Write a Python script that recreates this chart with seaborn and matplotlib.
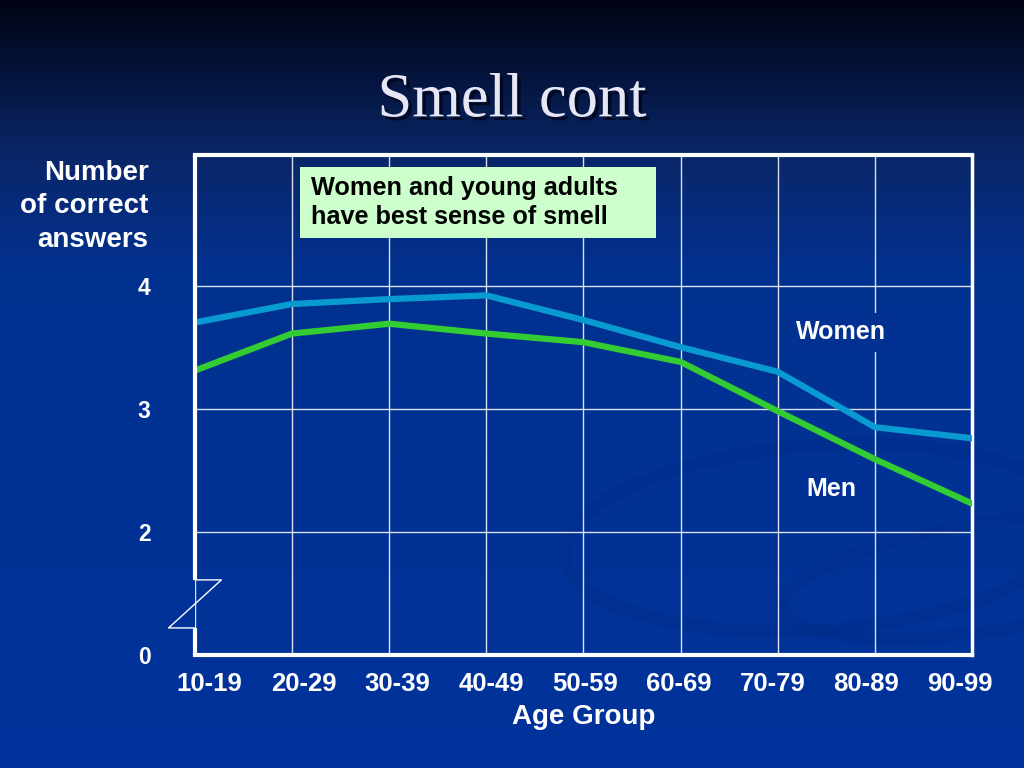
import numpy as np
import pandas as pd
import matplotlib
matplotlib.use("Agg")
import matplotlib.pyplot as plt
import matplotlib.patheffects as pe
from matplotlib.colors import LinearSegmentedColormap
from matplotlib.patches import Ellipse, Rectangle
import seaborn as sns

# data
age_groups = ["10-19", "20-29", "30-39", "40-49", "50-59", "60-69", "70-79", "80-89", "90-99"]
women = [3.70, 3.85, 3.89, 3.92, 3.72, 3.50, 3.30, 2.85, 2.76]
men = [3.31, 3.61, 3.69, 3.61, 3.54, 3.38, 2.98, 2.59, 2.23]
ytick_vals = [1, 2, 3, 4]
ytick_labels = ["0", "2", "3", "4"]

df = pd.DataFrame({
    "pos": list(range(len(age_groups))) * 2,
    "score": women + men,
    "sex": ["Women"] * len(women) + ["Men"] * len(men),
})

sns.set_style("white")
plt.rcParams["font.family"] = ["Liberation Sans", "DejaVu Sans"]

fig = plt.figure(figsize=(10.24, 7.68), dpi=100)

# slide background gradient
bg = fig.add_axes([0, 0, 1, 1], zorder=-10)
cmap = LinearSegmentedColormap.from_list(
    "slide", [(0.0, "#010413"), (0.08, "#041236"), (0.2, "#0a2668"),
              (0.35, "#02318f"), (1.0, "#00339c")])
grad = np.linspace(0, 1, 256).reshape(-1, 1)
bg.imshow(grad, aspect="auto", cmap=cmap, extent=[0, 1, 0, 1], origin="upper")
# faint swirls in the lower right
for (cx, cy, w, h, ang) in [(0.80, 0.30, 0.50, 0.24, 6), (0.97, 0.25, 0.42, 0.14, 12)]:
    bg.add_patch(Ellipse((cx, cy), w, h, angle=ang, fill=False,
                         edgecolor="#002a85", lw=9, alpha=0.35))
bg.set_xlim(0, 1)
bg.set_ylim(0, 1)
bg.axis("off")

fig.text(0.5, 0.868, "Smell cont", ha="center", va="center", fontsize=45,
         family=["Liberation Serif", "DejaVu Serif"], color="#e6e6f5",
         path_effects=[pe.withSimplePatchShadow(offset=(2.5, -2.5),
                                                shadow_rgbFace="#000820", alpha=0.9)])

ax = fig.add_axes([0.1904, 0.1471, 0.7588, 0.6511])
ax.set_facecolor("none")

sns.lineplot(data=df, x="pos", y="score", hue="sex",
             palette={"Women": "#0a9ad2", "Men": "#33cc33"},
             linewidth=4.5, legend=False, ax=ax, zorder=3)

ax.set_xlim(0, len(age_groups) - 1)
ax.set_ylim(1, 5.06)
# grid at the categories, labels spread evenly under them as on the slide
ax.set_xticks(range(len(age_groups)), minor=True)
ax.set_xticks(np.linspace(0.15, 7.88, len(age_groups)))
ax.set_xticklabels(age_groups)
ax.set_yticks(ytick_vals)
ax.set_yticklabels(ytick_labels)
ax.grid(False)
ax.grid(True, axis="x", which="minor", color="white", lw=1.0, alpha=0.85)
ax.grid(True, axis="y", which="major", color="white", lw=1.0, alpha=0.85)
ax.tick_params(axis="both", which="both", length=0, colors="white")
for lab in ax.get_xticklabels():
    lab.set_fontsize(18.5)
    lab.set_fontweight("bold")
for lab in ax.get_yticklabels():
    lab.set_fontsize(16.5)
    lab.set_fontweight("bold")
ax.tick_params(axis="x", pad=12)
ax.tick_params(axis="y", pad=32)

ax.set_xlabel("Age Group", color="white", fontsize=20, fontweight="bold", labelpad=6)
ax.set_ylabel("")

for side in ["top", "bottom"]:
    ax.spines[side].set_color("white")
    ax.spines[side].set_linewidth(3)
ax.spines["right"].set_color("white")
ax.spines["right"].set_linewidth(2.5)
ax.spines["left"].set_visible(False)

# left axis with a break
tr = ax.get_yaxis_transform()
ax.plot([0, 0], [1.61, 5.06], color="white", lw=3, transform=tr, clip_on=False, zorder=5,
        solid_capstyle="butt")
ax.plot([0, 0], [1.0, 1.22], color="white", lw=3, transform=tr, clip_on=False, zorder=5,
        solid_capstyle="butt")
ax.plot([0, 0.034, -0.034, 0], [1.61, 1.61, 1.22, 1.22], color="white", lw=1,
        transform=tr, clip_on=False, zorder=5)

fig.text(0.145, 0.792, "Number\nof correct\nanswers", ha="right", va="top",
         color="white", fontsize=20, fontweight="bold", linespacing=1.38)

# callout box
fig.add_artist(Rectangle((0.293, 0.690), 0.348, 0.0924, transform=fig.transFigure,
                         fc="#ccffcc", ec="none", zorder=6))
fig.text(0.3037, 0.7363, "Women and young adults\nhave best sense of smell", ha="left",
         va="center", fontsize=18.2, fontweight="bold", color="black", linespacing=1.3,
         zorder=7)

ax.text(6.65, 3.62, "Women", ha="center", va="center", color="white", fontsize=18,
        fontweight="bold", zorder=6,
        bbox=dict(boxstyle="square,pad=0.3", fc=cmap(331 / 768), ec="none"))
ax.text(6.55, 2.35, "Men", ha="center", va="center", color="white", fontsize=18,
        fontweight="bold", zorder=6)

fig.savefig("out.png", dpi=100)
